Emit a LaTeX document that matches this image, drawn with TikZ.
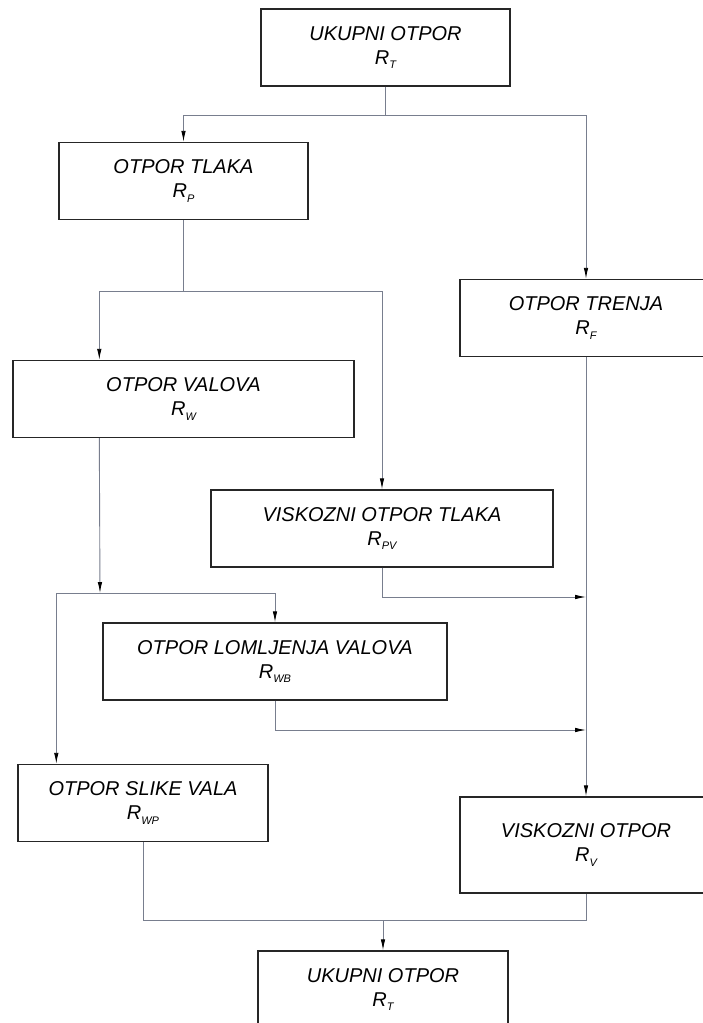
\documentclass[tikz,border=0pt]{standalone}
\usepackage{fontspec}
\setmainfont{Liberation Sans}
\usetikzlibrary{arrows.meta}
\definecolor{wire}{RGB}{120,126,142}
\newcommand{\ind}[1]{\raisebox{-4.5pt}{\fontsize{11}{11}\selectfont #1}}
\tikzstyle{block} = [rectangle, draw=black!85, line width=1.4pt, minimum height=77pt, inner sep=0pt, align=center, font=\itshape\fontsize{20}{24}\selectfont]
\tikzstyle{line} = [draw=wire, line width=0.9pt]
\tikzstyle{arrow} = [line, -{Latex[length=11pt,width=4.5pt,color=black]}]

\begin{document}
\begin{tikzpicture}[x=1pt,y=-1pt]

\fill[white] (0,0) rectangle (702,1023);
\useasboundingbox (0,0) rectangle (702,1023);

\node (total) [block, minimum width=249pt] at (385.5,47.5) {UKUPNI OTPOR\\R\ind{T}};
\node (press) [block, minimum width=249pt] at (183.5,181) {OTPOR TLAKA\\R\ind{P}};
\node (fric) [block, minimum width=252pt] at (586,318) {OTPOR TRENJA\\R\ind{F}};
\node (wave) [block, minimum width=341pt] at (183.5,399) {OTPOR VALOVA\\R\ind{W}};
\node (vpress) [block, minimum width=342pt] at (382,528.5) {VISKOZNI OTPOR TLAKA\\R\ind{PV}};
\node (break) [block, minimum width=344pt] at (275,661.5) {OTPOR LOMLJENJA VALOVA\\R\ind{WB}};
\node (pattern) [block, minimum width=250pt] at (143,803) {OTPOR SLIKE VALA\\R\ind{WP}};
\node (visc) [block, minimum width=252pt, minimum height=96pt] at (586,845) {VISKOZNI OTPOR\\R\ind{V}};
\node (sum) [block, minimum width=250pt] at (383,989.5) {UKUPNI OTPOR\\R\ind{T}};

\coordinate (j1) at (385.5,115);
\coordinate (j2) at (183.5,291);
\coordinate (j3) at (100,593);
\coordinate (m1) at (586,597);
\coordinate (m2) at (586,730);
\coordinate (j5) at (383,920);

\draw [line] (total) -- (j1);
\draw [arrow] (j1) -| (press);
\draw [arrow] (j1) -| (fric);
\draw [line] (press) -- (j2);
\draw [arrow] (j2) -| ([xshift=87pt]wave.north west);
\draw [arrow] (j2) -| (vpress);
\draw [arrow] ([xshift=87pt]wave.south west) -- (j3);
\draw [arrow] (j3) -| (break);
\draw [arrow] (j3) -| ([xshift=39pt]pattern.north west);
\draw [arrow] (vpress) |- (m1);
\draw [arrow] (break) |- (m2);
\draw [arrow] (fric) -- (visc);
\draw [line] (pattern) |- (j5) -| (visc);
\draw [arrow] (j5) -- (sum);

\end{tikzpicture}
\end{document}
